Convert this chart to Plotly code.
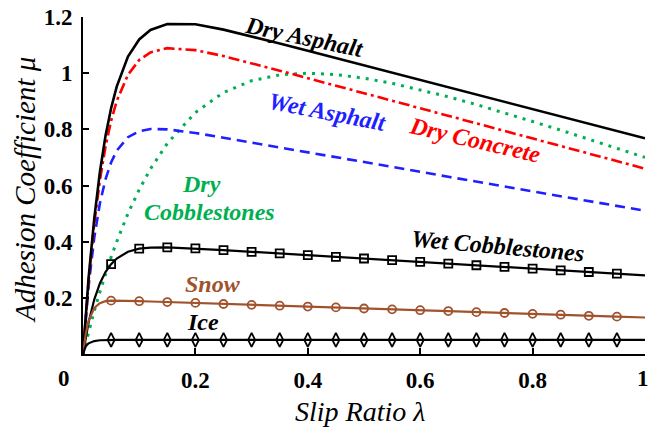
import plotly.graph_objects as go

# Slip ratio samples
lam = [0, 0.005, 0.01, 0.02, 0.03, 0.04, 0.05, 0.06, 0.08, 0.10, 0.12, 0.15, 0.20, 0.25,
       0.30, 0.35, 0.40, 0.45, 0.50, 0.55, 0.60, 0.65, 0.70, 0.75, 0.80, 0.85, 0.90, 0.95, 1.00]

mu_dry_asphalt = [0, 0.145, 0.272, 0.482, 0.647, 0.776, 0.875, 0.952, 1.059, 1.120, 1.154, 1.175,
                  1.174, 1.155, 1.131, 1.106, 1.080, 1.054, 1.028, 1.002, 0.976, 0.950, 0.924,
                  0.898, 0.872, 0.846, 0.820, 0.794, 0.768]
mu_dry_concrete = [0, 0.139, 0.261, 0.463, 0.618, 0.738, 0.830, 0.901, 0.994, 1.047, 1.074, 1.089,
                   1.082, 1.061, 1.036, 1.009, 0.982, 0.956, 0.929, 0.902, 0.875, 0.848, 0.821,
                   0.794, 0.768, 0.741, 0.714, 0.687, 0.660]
mu_wet_asphalt = [0, 0.132, 0.243, 0.414, 0.536, 0.622, 0.682, 0.724, 0.772, 0.793, 0.801, 0.800,
                  0.787, 0.770, 0.753, 0.736, 0.718, 0.701, 0.684, 0.666, 0.649, 0.631, 0.614,
                  0.597, 0.579, 0.562, 0.545, 0.527, 0.510]
mu_dry_cobble = [0, 0.040, 0.079, 0.153, 0.221, 0.285, 0.345, 0.400, 0.500, 0.585, 0.659, 0.750,
                 0.860, 0.931, 0.973, 0.994, 1.000, 0.995, 0.982, 0.964, 0.941, 0.916, 0.888,
                 0.859, 0.828, 0.797, 0.765, 0.733, 0.700]
mu_wet_cobble = [0, 0.062, 0.113, 0.194, 0.251, 0.292, 0.320, 0.340, 0.364, 0.375, 0.379, 0.380,
                 0.376, 0.370, 0.364, 0.358, 0.352, 0.346, 0.340, 0.334, 0.328, 0.322, 0.316,
                 0.310, 0.304, 0.298, 0.292, 0.286, 0.280]
mu_snow = [0, 0.073, 0.118, 0.164, 0.181, 0.188, 0.190, 0.190, 0.189, 0.188, 0.187, 0.185,
           0.182, 0.178, 0.175, 0.172, 0.169, 0.166, 0.162, 0.159, 0.156, 0.153, 0.149,
           0.146, 0.143, 0.140, 0.136, 0.133, 0.130]
mu_ice = [0, 0.028, 0.038, 0.046, 0.049, 0.050, 0.050, 0.050, 0.050, 0.050, 0.050, 0.050,
          0.050, 0.050, 0.050, 0.050, 0.050, 0.050, 0.050, 0.050, 0.050, 0.050, 0.050,
          0.050, 0.050, 0.050, 0.050, 0.050, 0.050]

x_ticks = [0.2, 0.4, 0.6, 0.8, 1.0]
x_tick_text = ["0.2", "0.4", "0.6", "0.8", "1"]
y_ticks = [0.2, 0.4, 0.6, 0.8, 1.0, 1.2]
y_tick_text = ["0.2", "0.4", "0.6", "0.8", "1", "1.2"]

BLACK = "#000000"
RED = "#ff0000"
BLUE = "#1f1fff"
GREEN = "#00b050"
BROWN = "#a0522d"
SERIF = "Liberation Serif"

# plot-area geometry in pixels
L, R, T, B = 83, 4, 17, 76
W, H = 649, 430
PW, PH = W - L - R, H - T - B

def px(xp):
    return (xp - L) / PW

def py(yp):
    return (H - B - yp) / PH

# marker positions: every 0.05 from 0.05 to 0.95
mk_idx = [i for i, l in enumerate(lam) if 0.04 < l < 0.96 and round(l * 100) % 5 == 0]

fig = go.Figure()

def line(y, color, dash="solid", width=2.6):
    fig.add_trace(go.Scatter(x=lam, y=y, mode="lines", line=dict(color=color, width=width, dash=dash),
                             hoverinfo="skip", showlegend=False, cliponaxis=False))

def markers(y, color, symbol, size):
    fig.add_trace(go.Scatter(x=[lam[i] for i in mk_idx], y=[y[i] for i in mk_idx], mode="markers",
                             marker=dict(symbol=symbol, size=size, color=color,
                                         line=dict(color=color, width=1.8)),
                             hoverinfo="skip", showlegend=False))

line(mu_dry_cobble, GREEN, "3px,6px", 3)
line(mu_wet_asphalt, BLUE, "10px,6px", 2.6)
line(mu_dry_concrete, RED, "11px,4px,3px,4px", 2.6)
line(mu_dry_asphalt, BLACK, "solid", 2.6)
line(mu_wet_cobble, BLACK, "solid", 2.2)
markers(mu_wet_cobble, BLACK, "square-open", 8)
line(mu_snow, BROWN, "solid", 2.2)
markers(mu_snow, BROWN, "circle-open", 8)
line(mu_ice, BLACK, "solid", 2.2)
markers(mu_ice, BLACK, "diamond-tall-open", 10)

def label(text, xp, yp, color, angle=0):
    fig.add_annotation(x=px(xp), y=py(yp), xref="paper", yref="paper", text=text, showarrow=False,
                       textangle=angle, xanchor="center", yanchor="middle",
                       font=dict(family=SERIF, size=24, color=color, style="italic", weight="bold"))

label("Dry Asphalt", 304, 37, BLACK, 12)
label("Dry Concrete", 475, 140, RED, 13)
label("Wet Asphalt", 327, 112, BLUE, 11)
label("Dry", 201, 184, GREEN)
label("Cobblestones", 209, 212, GREEN)
label("Wet Cobblestones", 498, 246, BLACK, 5)
label("Snow", 213, 284, BROWN)
label("Ice", 203, 322, BLACK)

tick_font = dict(family=SERIF, size=23, color=BLACK, weight="bold")

# origin tick label and the last x tick label (kept inside the page)
fig.add_annotation(x=px(64), y=py(378), xref="paper", yref="paper", text="0", showarrow=False,
                   xanchor="center", yanchor="middle", font=tick_font)
fig.add_annotation(x=px(643), y=py(378), xref="paper", yref="paper", text=x_tick_text[-1],
                   showarrow=False, xanchor="center", yanchor="middle", font=tick_font)
x_tick_shown = x_tick_text[:-1] + [""]

# axis titles
fig.add_annotation(x=px(360), y=py(411), xref="paper", yref="paper", text="Slip Ratio λ",
                   showarrow=False, xanchor="center", yanchor="middle",
                   font=dict(family=SERIF, size=28, color=BLACK, style="italic"))
fig.add_annotation(x=px(25), y=py(190), xref="paper", yref="paper", text="Adhesion Coefficient μ",
                   showarrow=False, textangle=-90, xanchor="center", yanchor="middle",
                   font=dict(family=SERIF, size=29, color=BLACK, style="italic"))

axis_common = dict(showgrid=False, zeroline=False, showline=True, linecolor=BLACK, linewidth=2,
                   ticks="inside", ticklen=6, tickwidth=1.5, tickcolor=BLACK, automargin=False,
                   ticklabeloverflow="allow", tickfont=tick_font)

fig.update_layout(
    width=W, height=H,
    margin=dict(l=L, r=R, t=T, b=B, autoexpand=False),
    paper_bgcolor="white", plot_bgcolor="white",
    xaxis=dict(range=[0, 1], tickvals=x_ticks, ticktext=x_tick_shown, ticklabelstandoff=4,
               **axis_common),
    yaxis=dict(range=[0, 1.2], tickvals=y_ticks, ticktext=y_tick_text, ticklabelstandoff=4,
               **axis_common),
)

fig.write_html(
    "out.html",
    config={"displayModeBar": False},
    post_script="document.body.style.margin='0';document.body.style.overflow='hidden';"
                "document.documentElement.style.overflow='hidden';",
)
